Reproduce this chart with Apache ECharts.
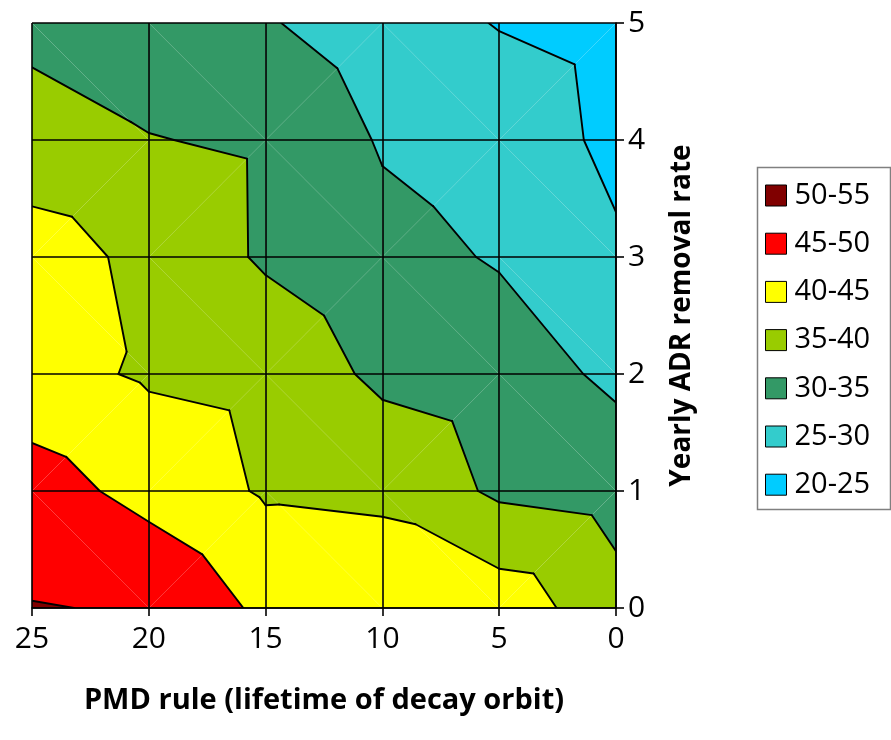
<!DOCTYPE html>
<html>
<head>
<meta charset="utf-8">
<script src="https://cdn.jsdelivr.net/npm/echarts@6/dist/echarts.min.js"></script>
<style>
  html, body { margin: 0; padding: 0; background: #fff; }
  #chart { width: 891px; height: 740px; }
</style>
</head>
<body>
<div id="chart"></div>
<script>
// grid of values
const xValues = [25, 20, 15, 10, 5, 0];
const yValues = [0, 1, 2, 3, 4, 5];
// one row per y value (0..5), columns follow xValues
const zRows = [
  [50.18, 49.68, 43.9, 44.15, 42.95, 36.95],
  [47.31, 43.33, 39.46, 38.83, 34.15, 32.93],
  [41.68, 39.41, 38.5, 33.92, 32.42, 29.06],
  [42.52, 38.65, 34.36, 31.5, 29.63, 25.72],
  [36.7, 35.19, 34.31, 29.57, 28.05, 23.84],
  [33.96, 32.0, 30.42, 27.29, 24.77, 23.33]
];
const bandNames = ["50-55", "45-50", "40-45", "35-40", "30-35", "25-30", "20-25"];
const bandLows = [50, 45, 40, 35, 30, 25, 20];
const bandStep = 5;
const contourLevels = [25, 30, 35, 40, 45, 50];

const bandColors = ["#800000", "#ff0000", "#ffff00", "#99cc00", "#339966", "#33cccc", "#00ccff"];
const FONT = "Open Sans";

// split every cell in two triangles, along the diagonal with the higher mid value
function buildTriangles() {
  const tris = [];
  const pt = (i, j) => ({ x: xValues[i], y: yValues[j], z: zRows[j][i] });
  for (let j = 0; j < yValues.length - 1; j++) {
    for (let i = 0; i < xValues.length - 1; i++) {
      const bl = pt(i, j), br = pt(i + 1, j), tl = pt(i, j + 1), tr = pt(i + 1, j + 1);
      if (tl.z + br.z >= bl.z + tr.z) {
        tris.push([tl, br, bl], [tl, br, tr]);
      } else {
        tris.push([bl, tr, tl], [bl, tr, br]);
      }
    }
  }
  return tris;
}

function lerp(a, b, level) {
  const t = (level - a.z) / (b.z - a.z);
  return { x: a.x + t * (b.x - a.x), y: a.y + t * (b.y - a.y), z: level };
}

// keep the part of a polygon above (or below) a level
function clip(poly, level, above) {
  const out = [];
  for (let k = 0; k < poly.length; k++) {
    const a = poly[k], b = poly[(k + 1) % poly.length];
    const ina = above ? a.z >= level : a.z <= level;
    const inb = above ? b.z >= level : b.z <= level;
    if (ina) out.push(a);
    if (ina !== inb) out.push(lerp(a, b, level));
  }
  return out;
}

const triangles = buildTriangles();

const bandSeries = bandNames.map((name, b) => {
  const lo = bandLows[b], hi = lo + bandStep;
  const polys = triangles
    .map(t => clip(clip(t, lo, true), hi, false))
    .filter(p => p.length >= 3);
  return {
    type: "custom",
    name: name,
    coordinateSystem: "cartesian2d",
    clip: true,
    z: 1,
    silent: true,
    itemStyle: { color: bandColors[b] },
    data: polys.map(p => [p[0].x, p[0].y]),
    renderItem: function (params, api) {
      const pts = polys[params.dataIndex];
      return {
        type: "polygon",
        shape: { points: pts.map(p => api.coord([p.x, p.y])) },
        style: { fill: bandColors[b] }
      };
    }
  };
});

// contour lines, one segment per triangle and level
const segments = [];
triangles.forEach(t => {
  contourLevels.forEach(level => {
    const pts = [];
    for (let k = 0; k < 3; k++) {
      const a = t[k], b = t[(k + 1) % 3];
      if ((a.z < level) !== (b.z < level)) pts.push(lerp(a, b, level));
    }
    if (pts.length === 2) segments.push(pts);
  });
});

const lineSeries = {
  type: "custom",
  coordinateSystem: "cartesian2d",
  clip: true,
  z: 2,
  silent: true,
  data: segments.map(s => [s[0].x, s[0].y]),
  renderItem: function (params, api) {
    const s = segments[params.dataIndex];
    const p1 = api.coord([s[0].x, s[0].y]);
    const p2 = api.coord([s[1].x, s[1].y]);
    return {
      type: "line",
      shape: { x1: p1[0], y1: p1[1], x2: p2[0], y2: p2[1] },
      style: { stroke: "#000", lineWidth: 1.9, lineCap: "round" }
    };
  }
};

const axisLineStyle = { color: "#000", width: 1.6 };

const option = {
  animation: false,
  backgroundColor: "#fff",
  textStyle: { fontFamily: FONT, color: "#000" },
  grid: { left: 32, top: 23, width: 584, height: 585 },
  xAxis: {
    type: "value",
    min: 0,
    max: 25,
    interval: 5,
    inverse: true,
    position: "bottom",
    z: 3,
    axisLine: { show: true, onZero: false, lineStyle: axisLineStyle },
    axisTick: { show: true, length: 8, lineStyle: axisLineStyle },
    splitLine: { show: true, lineStyle: axisLineStyle },
    axisLabel: { fontSize: 30, color: "#000", margin: 16, fontFamily: FONT },
    name: "PMD rule (lifetime of decay orbit)",
    nameLocation: "middle",
    nameGap: 78,
    nameTextStyle: { fontSize: 29, fontWeight: "bold", color: "#000", fontFamily: FONT }
  },
  yAxis: {
    type: "value",
    min: 0,
    max: 5,
    interval: 1,
    position: "right",
    z: 3,
    axisLine: { show: true, onZero: false, lineStyle: axisLineStyle },
    axisTick: { show: true, length: 8, lineStyle: axisLineStyle },
    splitLine: { show: true, lineStyle: axisLineStyle },
    axisLabel: { fontSize: 30, color: "#000", margin: 12, fontFamily: FONT },
    name: "Yearly ADR removal rate",
    nameLocation: "middle",
    nameRotate: 90,
    nameGap: 52,
    nameTextStyle: { fontSize: 28, fontWeight: "bold", color: "#000", fontFamily: FONT }
  },
  legend: {
    orient: "vertical",
    left: 765,
    top: 181,
    padding: 0,
    icon: "rect",
    itemWidth: 21,
    itemHeight: 21,
    itemGap: 19.2,
    selectedMode: false,
    data: bandNames,
    itemStyle: { borderColor: "#000", borderWidth: 1 },
    textStyle: { fontSize: 29, lineHeight: 21, color: "#000", fontFamily: FONT, padding: [0, 0, 0, 3] }
  },
  graphic: [{
    type: "rect",
    left: 755,
    top: 165,
    shape: { width: 133, height: 342 },
    style: { fill: "none", stroke: "#808080", lineWidth: 1.5 }
  }],
  series: bandSeries.concat([lineSeries])
};

const chart = echarts.init(document.getElementById("chart"));
chart.setOption(option);
</script>
</body>
</html>
